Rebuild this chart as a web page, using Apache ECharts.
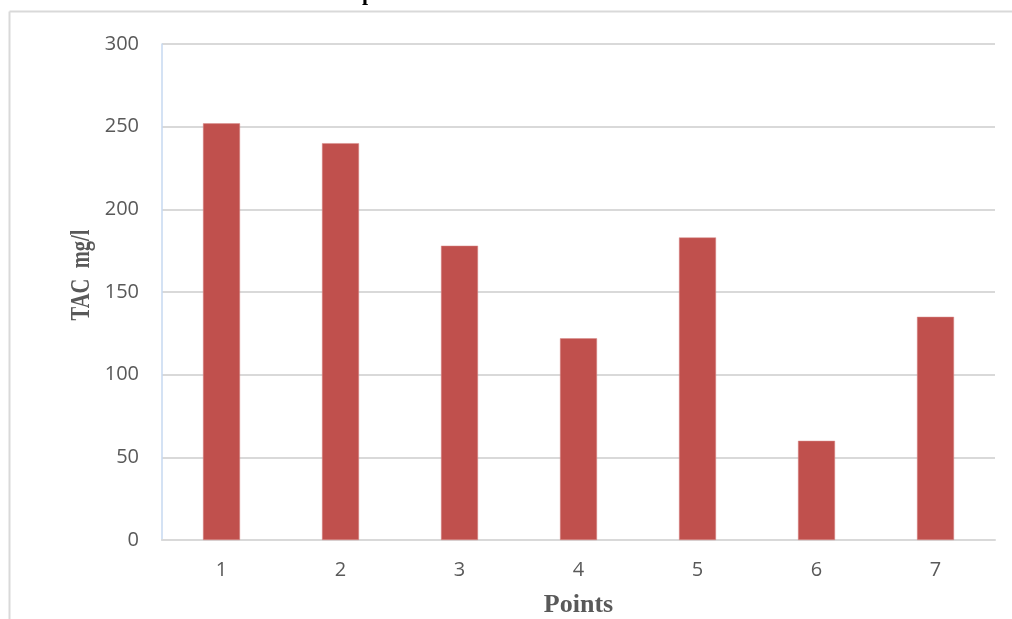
<!DOCTYPE html>
<html>
<head>
<meta charset="utf-8">
<script src="https://cdn.jsdelivr.net/npm/echarts@6/dist/echarts.min.js"></script>
<style>
html,body{margin:0;padding:0;background:#fff;}
#chart{width:1012px;height:619px;}
</style>
</head>
<body>
<div id="chart"></div>
<script>
const categories = ['1','2','3','4','5','6','7'];
const tacValues = [252, 240, 178, 122, 183, 60, 135];
const yTicks = [0, 50, 100, 150, 200, 250, 300];
const yAxisTitle = 'TAC  mg/l';
const xAxisTitle = 'Points';

const chart = echarts.init(document.getElementById('chart'), null, {renderer:'canvas'});
chart.setOption({
  animation:false,
  backgroundColor:'#ffffff',
  graphic:[
    {type:'line', shape:{x1:9.5,y1:11.5,x2:1012,y2:11.5}, style:{stroke:'#d9d9d9',lineWidth:2}},
    {type:'line', shape:{x1:9.5,y1:11.5,x2:9.5,y2:619}, style:{stroke:'#d9d9d9',lineWidth:2}},
    {type:'text', x:362, y:-17, style:{text:'p', font:'bold 22px "Liberation Serif", serif', fill:'#000'}},
    {type:'text', x:82, y:275, rotation:Math.PI/2, scaleX:0.76,
     style:{text:yAxisTitle, font:'bold 27px "Liberation Serif", serif', fill:'#595959', align:'center', verticalAlign:'middle'}}
  ],
  grid:{left:162, right:17, top:44, bottom:79, containLabel:false, outerBoundsMode:'none'},
  xAxis:{
    type:'category',
    data:categories,
    name:xAxisTitle,
    nameLocation:'middle',
    nameGap:52,
    nameTextStyle:{fontFamily:'"Liberation Serif", serif', fontWeight:'bold', fontSize:26, color:'#595959'},
    axisLine:{show:true, lineStyle:{color:'#d9d9d9', width:2}},
    axisTick:{show:false},
    axisLabel:{color:'#595959', fontSize:20, fontFamily:'"Open Sans", sans-serif', margin:20}
  },
  yAxis:{
    type:'value',
    min:yTicks[0], max:yTicks[yTicks.length-1], interval:50,
    axisLine:{show:true, lineStyle:{color:'#c6d9f0', width:1.5}},
    axisTick:{show:false},
    axisLabel:{color:'#595959', fontSize:20, fontFamily:'"Open Sans", sans-serif', margin:23},
    splitLine:{show:true, lineStyle:{color:'#d9d9d9', width:2}}
  },
  series:[{
    type:'bar',
    data:tacValues,
    barWidth:37,
    itemStyle:{color:'#c0504d', borderColor:'#d98c8a', borderWidth:0.5}
  }]
});
</script>
</body>
</html>
